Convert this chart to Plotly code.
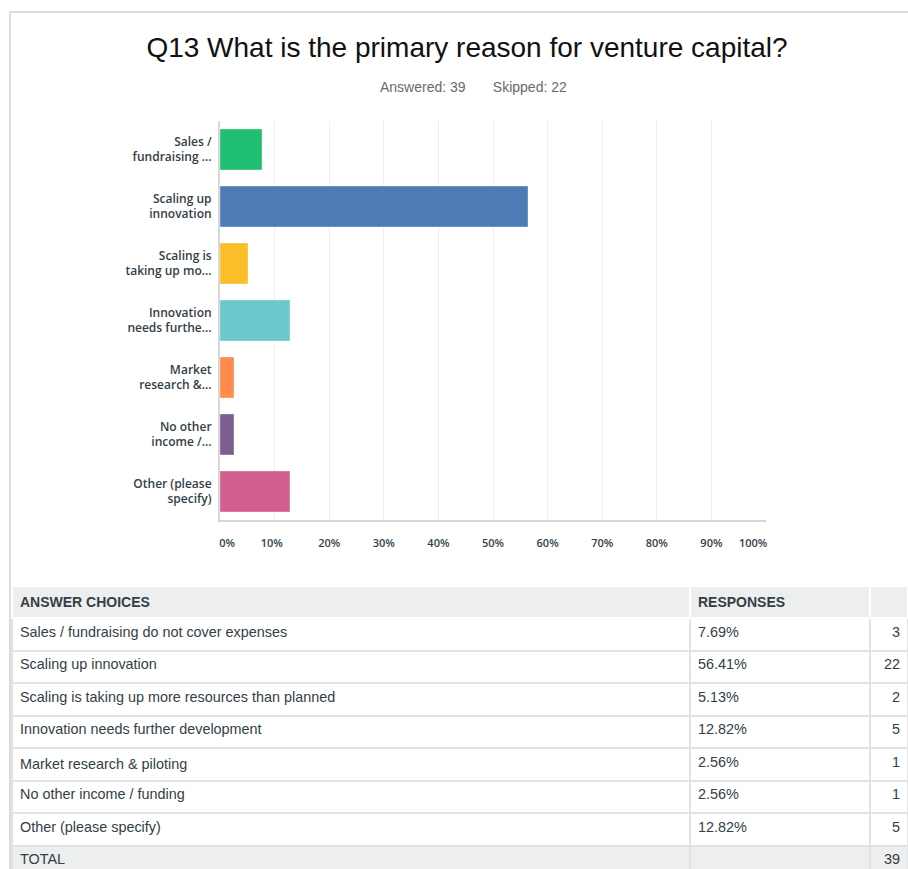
import plotly.graph_objects as go

# Survey question Q13 results
short_labels = [
    "Sales /<br>fundraising ...",
    "Scaling up<br>innovation",
    "Scaling is<br>taking up mo...",
    "Innovation<br>needs furthe...",
    "Market<br>research &...",
    "No other<br>income /...",
    "Other (please<br>specify)",
]
full_labels = [
    "Sales / fundraising do not cover expenses",
    "Scaling up innovation",
    "Scaling is taking up more resources than planned",
    "Innovation needs further development",
    "Market research & piloting",
    "No other income / funding",
    "Other (please specify)",
]
percents = [7.69, 56.41, 5.13, 12.82, 2.56, 2.56, 12.82]
counts = [3, 22, 2, 5, 1, 1, 5]
answered = 39
skipped = 22
total = 39
bar_colors = ["#21BF73", "#507CB6", "#F9BE28", "#6BC8CD", "#FF8B4F", "#7D5E90", "#D25F90"]
tick_values = list(range(0, 101, 10))
tick_labels = ["&nbsp;&nbsp;&nbsp;&nbsp;&nbsp;0%", "10%&nbsp;&nbsp;", "20%", "30%", "40%", "50%",
               "60%", "70%", "80%", "90%", "100%" + "&nbsp;" * 9]

W, H = 908, 869


def py(px):
    return 1 - px / H


def px_(x):
    return x / W


LABEL_FONT = "Open Sans, Lato, sans-serif"
TABLE_FONT = "Liberation Sans, Arial, sans-serif"

fig = go.Figure()

fig.add_trace(go.Bar(
    x=percents,
    y=short_labels,
    orientation="h",
    marker=dict(color=bar_colors, line=dict(color="rgba(255,255,255,0.35)", width=1)),
    hoverinfo="x+y",
    showlegend=False,
))

# Table of answer choices
pct_text = [f"{p:.2f}%" for p in percents] + [""]
cnt_text = [str(c) for c in counts] + [str(total)]
lbl_text = full_labels + ["TOTAL"]
n_rows = len(lbl_text)
row_fill = ["white"] * (n_rows - 1) + ["#EDEEEE"]

fig.add_trace(go.Table(
    domain=dict(x=[px_(12), 1.0], y=[0.0, py(586)]),
    columnwidth=[678, 180, 38],
    header=dict(
        values=["<b>ANSWER CHOICES</b>", "<b>RESPONSES</b>", ""],
        fill_color="#EDEEEE",
        line=dict(color="white", width=2),
        align=["left", "left", "right"],
        font=dict(family=TABLE_FONT, size=14, color="#333F48"),
        height=26,
    ),
    cells=dict(
        values=[lbl_text, pct_text, cnt_text],
        fill_color=[row_fill, row_fill, row_fill],
        line=dict(color="#E2E3E3", width=2),
        align=["left", "left", "right"],
        font=dict(family=TABLE_FONT, size=14.4, color="#333E48"),
        height=32.5,
    ),
))

fig.update_layout(
    width=W,
    height=H,
    autosize=False,
    margin=dict(l=0, r=0, t=0, b=0, pad=0),
    paper_bgcolor="white",
    plot_bgcolor="white",
    bargap=0.28,
    title=dict(
        text="Q13 What is the primary reason for venture capital?",
        x=467 / W,
        xanchor="center",
        y=py(47),
        yanchor="middle",
        font=dict(family="Liberation Sans, Arial, sans-serif", size=28, color="#111111"),
    ),
    xaxis=dict(
        domain=[px_(220), px_(766)],
        range=[0, 100],
        tickvals=tick_values,
        ticktext=tick_labels,
        showgrid=True,
        gridcolor="#EEEEEE",
        gridwidth=1,
        zeroline=False,
        showline=True,
        linecolor="#D8D8D8",
        linewidth=2,
        ticks="outside",
        ticklen=12,
        tickcolor="rgba(0,0,0,0)",
        tickfont=dict(family=LABEL_FONT, size=11, color="#333E48", weight=600),
        automargin=False,
        fixedrange=True,
    ),
    yaxis=dict(
        domain=[py(520), py(121)],
        autorange="reversed",
        showgrid=False,
        showline=True,
        linecolor="#D8D8D8",
        linewidth=2,
        ticks="outside",
        ticklen=4,
        tickcolor="rgba(0,0,0,0)",
        tickfont=dict(family=LABEL_FONT, size=12, color="#333E48", weight=600),
        automargin=False,
        fixedrange=True,
    ),
    annotations=[
        dict(
            text=f"Answered: {answered}" + "&nbsp;" * 7 + f"Skipped: {skipped}",
            x=474 / W, y=py(87), xref="paper", yref="paper",
            xanchor="center", yanchor="middle", showarrow=False,
            font=dict(family="Liberation Sans, Arial, sans-serif", size=14, color="#6A6A6A"),
        )
    ],
    shapes=[
        # page frame: top and left edges
        dict(type="line", xref="paper", yref="paper", x0=px_(10), x1=1.0, y0=py(12), y1=py(12),
             line=dict(color="#DCDCDC", width=2)),
        dict(type="line", xref="paper", yref="paper", x0=px_(10), x1=px_(10), y0=py(12), y1=0,
             line=dict(color="#DCDCDC", width=2)),
    ],
)

fig.write_html("out.html", config={"responsive": False})
